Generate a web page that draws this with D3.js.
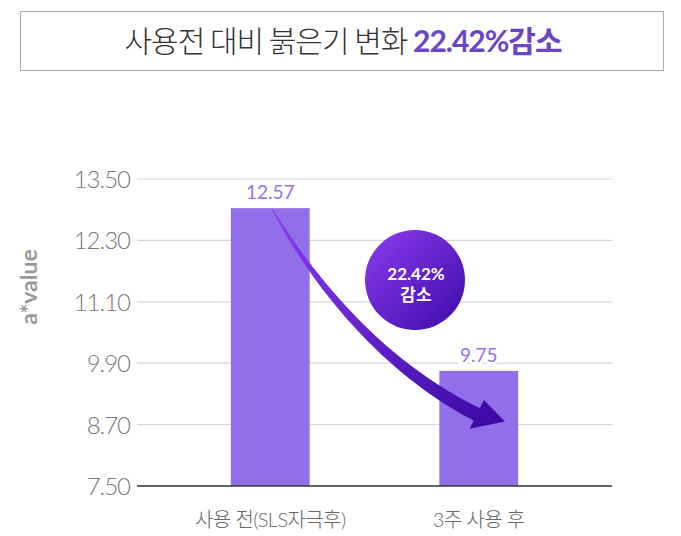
<!DOCTYPE html>
<html>
<head>
<meta charset="utf-8">
<script src="https://cdn.jsdelivr.net/npm/d3@7"></script>
<style>
  body { margin: 0; background: #fff; }
  text { font-family: Lato, "Noto Sans CJK KR", sans-serif; }
</style>
</head>
<body>
<script>
// data
const categories = ["사용 전(SLS자극후)", "3주 사용 후"];
const barValues = [12.93, 9.75];       // bar heights as drawn
const barLabels = ["12.57", "9.75"];   // labels printed above bars
const yTicks = [7.50, 8.70, 9.90, 11.10, 12.30, 13.50];
const badge = ["22.42%", "감소"];

const width = 681, height = 536;
const margin = {left: 137, right: 69, top: 179, bottom: 50};

let svg = d3.select("body").append("svg")
        .attr("width", width)
        .attr("height", height);

let defs = svg.append("defs");
let grad = defs.append("linearGradient")
        .attr("id", "purp")
        .attr("x1", "0").attr("y1", "0")
        .attr("x2", "1").attr("y2", "1");
grad.append("stop").attr("offset", "0%").attr("stop-color", "#8e3df0");
grad.append("stop").attr("offset", "100%").attr("stop-color", "#3a0aa6");

let arrowGrad = defs.append("linearGradient")
        .attr("id", "arrowGrad")
        .attr("gradientUnits", "userSpaceOnUse")
        .attr("x1", 274).attr("y1", 209)
        .attr("x2", 500).attr("y2", 425);
arrowGrad.append("stop").attr("offset", "0%").attr("stop-color", "#8a3cf0");
arrowGrad.append("stop").attr("offset", "100%").attr("stop-color", "#3a08a4");

// title box
svg.append("rect")
   .attr("x", 20.5).attr("y", 11.5)
   .attr("width", 643).attr("height", 59)
   .attr("fill", "#fff")
   .attr("stroke", "#a9a9a9")
   .attr("stroke-width", 1);

let title = svg.append("text")
   .attr("x", 343).attr("y", 52)
   .attr("text-anchor", "middle")
   .attr("font-size", 30);
title.append("tspan")
   .attr("font-family", "'Noto Sans CJK KR'")
   .attr("font-weight", 300)
   .attr("letter-spacing", -1)
   .attr("fill", "#333")
   .text("사용전 대비 붉은기 변화 ");
title.append("tspan")
   .attr("font-family", "Lato, 'Noto Sans CJK KR'")
   .attr("font-weight", 700)
   .attr("letter-spacing", -1)
   .attr("fill", "#6a45c8")
   .text("22.42%감소");

let x = d3.scaleBand()
        .domain(categories)
        .range([margin.left, width - margin.right])
        .paddingInner(0.622)
        .paddingOuter(0.45);

let y = d3.scaleLinear()
        .domain([7.5, 13.5])
        .range([486, 179]);

// grid
svg.append("g")
   .selectAll("line")
   .data(yTicks.slice(1))
   .join("line")
   .attr("x1", margin.left).attr("x2", width - margin.right)
   .attr("y1", d => y(d)).attr("y2", d => y(d))
   .attr("stroke", "#d6d6d6")
   .attr("stroke-width", 1.2);

// y tick labels
svg.append("g")
   .selectAll("text")
   .data(yTicks)
   .join("text")
   .attr("x", 130)
   .attr("y", d => y(d) + 9)
   .attr("text-anchor", "end")
   .attr("font-size", 24)
   .attr("font-weight", 300)
   .attr("letter-spacing", -1)
   .attr("fill", "#777")
   .text(d => d.toFixed(2));

svg.append("text")
   .attr("transform", "translate(37,287) rotate(-90)")
   .attr("text-anchor", "middle")
   .attr("font-size", 23)
   .attr("font-weight", 700)
   .attr("fill", "#999")
   .text("a*value");

// bars
svg.append("g")
   .selectAll("rect")
   .data(barValues)
   .join("rect")
   .attr("x", (d, i) => x(categories[i]))
   .attr("y", d => y(d))
   .attr("width", x.bandwidth())
   .attr("height", d => y(7.5) - y(d))
   .attr("fill", "#926ee8");

svg.append("g")
   .selectAll("text")
   .data(barValues)
   .join("text")
   .attr("x", (d, i) => x(categories[i]) + x.bandwidth() / 2)
   .attr("y", d => y(d) - 9)
   .attr("text-anchor", "middle")
   .attr("font-size", 19)
   .attr("fill", "#9a70ee")
   .attr("stroke", "#fff")
   .attr("stroke-width", 5)
   .attr("paint-order", "stroke")
   .text((d, i) => barLabels[i]);

// baseline
svg.append("line")
   .attr("x1", margin.left).attr("x2", width - margin.right)
   .attr("y1", y(7.5)).attr("y2", y(7.5))
   .attr("stroke", "#333")
   .attr("stroke-width", 1.6);

// category labels
svg.append("g")
   .selectAll("text")
   .data(categories)
   .join("text")
   .attr("x", d => x(d) + x.bandwidth() / 2)
   .attr("y", 527)
   .attr("text-anchor", "middle")
   .attr("font-size", 20)
   .attr("font-family", "'Noto Sans CJK KR'")
   .attr("font-weight", 300)
   .attr("letter-spacing", -0.6)
   .attr("fill", "#666")
   .text(d => d);

// curved tapering arrow from bar 1 to bar 2
const p0 = [x(categories[0]) + x.bandwidth() / 2 + 2, y(barValues[0]) + 1];
const p3 = [x(categories[1]) + x.bandwidth() / 2 - 2, y(8.9)];
const p1 = [p0[0] + 46, p0[1] + 81];
const p2 = [p3[0] - 88, p3[1] - 44];

let bez = function(t){
  let u = 1 - t;
  return [
    u*u*u*p0[0] + 3*u*u*t*p1[0] + 3*u*t*t*p2[0] + t*t*t*p3[0],
    u*u*u*p0[1] + 3*u*u*t*p1[1] + 3*u*t*t*p2[1] + t*t*t*p3[1]
  ];
}
let left = [], right = [];
const n = 40;
for (let i = 0; i <= n; i++) {
  let t = i / n;
  let a = bez(Math.max(0, t - 0.01)), b = bez(Math.min(1, t + 0.01));
  let dx = b[0] - a[0], dy = b[1] - a[1], len = Math.hypot(dx, dy);
  let nx = -dy / len, ny = dx / len;
  let w = 0.3 + 6.7 * Math.pow(t, 0.75);
  let c = bez(t);
  left.push([c[0] + nx * w, c[1] + ny * w]);
  right.push([c[0] - nx * w, c[1] - ny * w]);
}
let dir = [p3[0] - p2[0], p3[1] - p2[1]];
let dl = Math.hypot(dir[0], dir[1]);
dir = [dir[0] / dl, dir[1] / dl];
let nrm = [-dir[1], dir[0]];
const tipAngle = 14 * Math.PI / 180;
let tip = [p3[0] + Math.cos(tipAngle) * 29, p3[1] + Math.sin(tipAngle) * 29];
let headA = [p3[0] + nrm[0] * 16, p3[1] + nrm[1] * 16];
let headB = [p3[0] - nrm[0] * 16, p3[1] - nrm[1] * 16];

let pts = left.concat([headA, tip, headB]).concat(right.reverse());
svg.append("path")
   .attr("d", d3.line()(pts) + "Z")
   .attr("fill", "url(#arrowGrad)");

// badge
svg.append("circle")
   .attr("cx", 415).attr("cy", 280)
   .attr("r", 50)
   .attr("fill", "url(#purp)");

svg.append("g")
   .selectAll("text")
   .data(badge)
   .join("text")
   .attr("x", 416)
   .attr("y", (d, i) => 280 + i * 21)
   .attr("text-anchor", "middle")
   .attr("font-size", 17)
   .attr("font-weight", 700)
   .attr("font-family", "Roboto, 'Noto Sans CJK KR'")
   .attr("fill", "#fff")
   .text(d => d);
</script>
</body>
</html>
